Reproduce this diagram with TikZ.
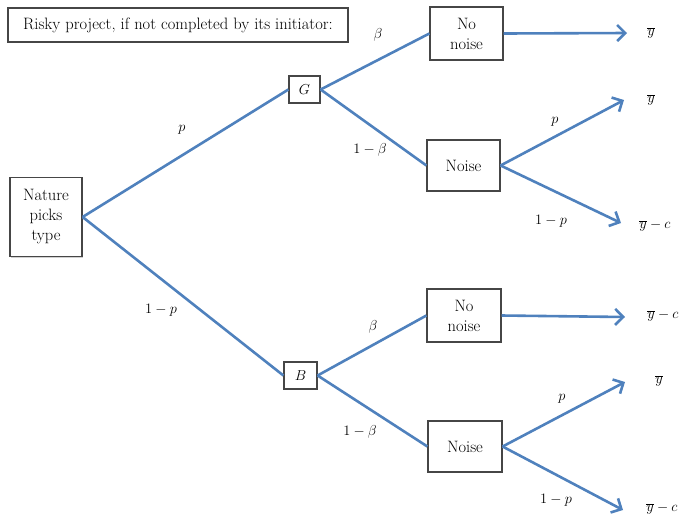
\documentclass[tikz,border=0pt]{standalone}
\usetikzlibrary{arrows.meta,shadows}
\definecolor{lineblue}{RGB}{79,129,189}
\definecolor{boxgray}{RGB}{70,70,70}
\begin{document}
\begin{tikzpicture}[x=1pt,y=-1pt,
  box/.style={draw=boxgray,line width=1.2pt,fill=white,align=center,inner sep=0pt,
    font=\fontsize{16.5}{20}\selectfont,
    drop shadow={shadow xshift=1.2pt,shadow yshift=-1.2pt,fill=black!30,opacity=0.6}},
  link/.style={draw=lineblue,line width=2.6pt},
  arr/.style={link,-{Straight Barb[length=8pt,width=16pt]}},
  lab/.style={font=\fontsize{15.5}{17}\selectfont,inner sep=0pt}
]
\useasboundingbox (0,0) rectangle (683,515);

% boxes
\node[box,minimum width=340pt,minimum height=34pt] (title) at (178,25)
  {\fontsize{16.5}{18}\selectfont Risky project, if not completed by its initiator:};
\node[box,minimum width=72pt,minimum height=79pt] (nat) at (46,217) {Nature\\picks\\type};
\node[box,minimum width=31pt,minimum height=27pt] (G) at (304.5,89.5) {\fontsize{14}{16}\selectfont$G$};
\node[box,minimum width=33pt,minimum height=27pt] (B) at (300.5,375.5) {\fontsize{14}{16}\selectfont$B$};
\node[box,minimum width=73pt,minimum height=53pt] (nn1) at (466.5,33.5) {No\\noise};
\node[box,minimum width=73pt,minimum height=51pt] (n1) at (463.5,165.5) {Noise};
\node[box,minimum width=74pt,minimum height=53pt] (nn2) at (464,315.5) {No\\noise};
\node[box,minimum width=74pt,minimum height=51pt] (n2) at (465,446.5) {Noise};

% tree links
\draw[link] (nat.east) -- (G.west);
\draw[link] (nat.east) -- (B.west);
\draw[link] (G.east) -- (nn1.west);
\draw[link] (G.east) -- (n1.west);
\draw[link] (B.east) -- (nn2.west);
\draw[link] (B.east) -- (n2.west);

% outcome ends
\coordinate (e1) at (627,33);
\coordinate (e2) at (624,100);
\coordinate (e3) at (621,223);
\coordinate (e4) at (625,317);
\coordinate (e5) at (625,382);
\coordinate (e6) at (623,510);
\draw[arr] (nn1.east) -- (e1);
\draw[arr] (n1.east) -- (e2);
\draw[arr] (n1.east) -- (e3);
\draw[arr] (nn2.east) -- (e4);
\draw[arr] (n2.east) -- (e5);
\draw[arr] (n2.east) -- (e6);

% outcome labels
\node[lab] (y1) at (651,33) {$\overline{y}$};
\node[lab] (y2) at (651,100) {$\overline{y}$};
\node[lab] (y3) at (655,226) {$\overline{y}-c$};
\node[lab] (y4) at (663,316) {$\overline{y}-c$};
\node[lab] (y5) at (659,381) {$\overline{y}$};
\node[lab] (y6) at (662,509) {$\overline{y}-c$};

% probability labels
\node[lab] (lp1) at (182,130) {$p$};
\node[lab] (lq1) at (161,310) {$1-p$};
\node[lab] (lb1) at (378,35) {$\beta$};
\node[lab] (lc1) at (370,150) {$1-\beta$};
\node[lab] (lp2) at (555,122) {$p$};
\node[lab] (lq2) at (551,221) {$1-p$};
\node[lab] (lb2) at (373,327) {$\beta$};
\node[lab] (lc2) at (360,432) {$1-\beta$};
\node[lab] (lp3) at (562,399) {$p$};
\node[lab] (lq3) at (556,500) {$1-p$};
\end{tikzpicture}
\end{document}
